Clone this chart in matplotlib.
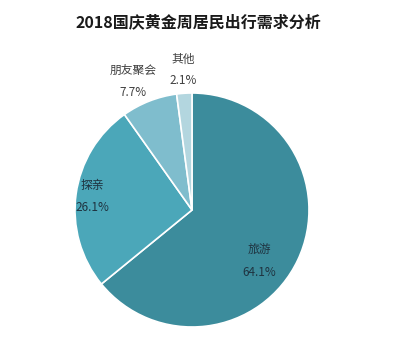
import numpy as np
import matplotlib.pyplot as plt

plt.rcParams['font.family'] = ['Noto Sans CJK SC', 'DejaVu Sans']

title = '2018国庆黄金周居民出行需求分析'
categories = ['旅游', '探亲', '朋友聚会', '其他']
shares = [64.1, 26.1, 7.7, 2.1]
colors = ['#3c8c9c', '#4ba7b9', '#7fbdcd', '#b3d6df']
label_dist = [0.72, 0.86, 1.21, 1.2]
label_shift = [-12, 0, 3, 0]  # degrees
label_color = ['#1f3340', '#1f3340', '#404040', '#404040']

W, H = 397, 343
fig = plt.figure(figsize=(W / 100, H / 100), dpi=100)
cx, cy, r = 192, 210, 117
ax = fig.add_axes([(cx - r) / W, (H - cy - r) / H, 2 * r / W, 2 * r / H])

wedges, _ = ax.pie(shares, colors=colors, startangle=90, counterclock=False,
                   wedgeprops=dict(edgecolor='white', linewidth=1.2))
ax.set_xlim(-1, 1)
ax.set_ylim(-1, 1)
ax.set_aspect('equal')
ax.axis('off')

for w, name, v, d, s, c in zip(wedges, categories, shares, label_dist,
                               label_shift, label_color):
    ang = np.deg2rad((w.theta1 + w.theta2) / 2 + s)
    x, y = d * np.cos(ang), d * np.sin(ang)
    ax.text(x, y, f'{name}\n{v}%', ha='center', va='center', fontsize=8.5,
            color=c, linespacing=1.9, clip_on=False)

fig.text(0.5, 1 - 22 / H, title, ha='center', va='center', fontsize=11.5,
         fontweight='bold', color='#1a1a1a')

fig.savefig('out.png', dpi=100)
